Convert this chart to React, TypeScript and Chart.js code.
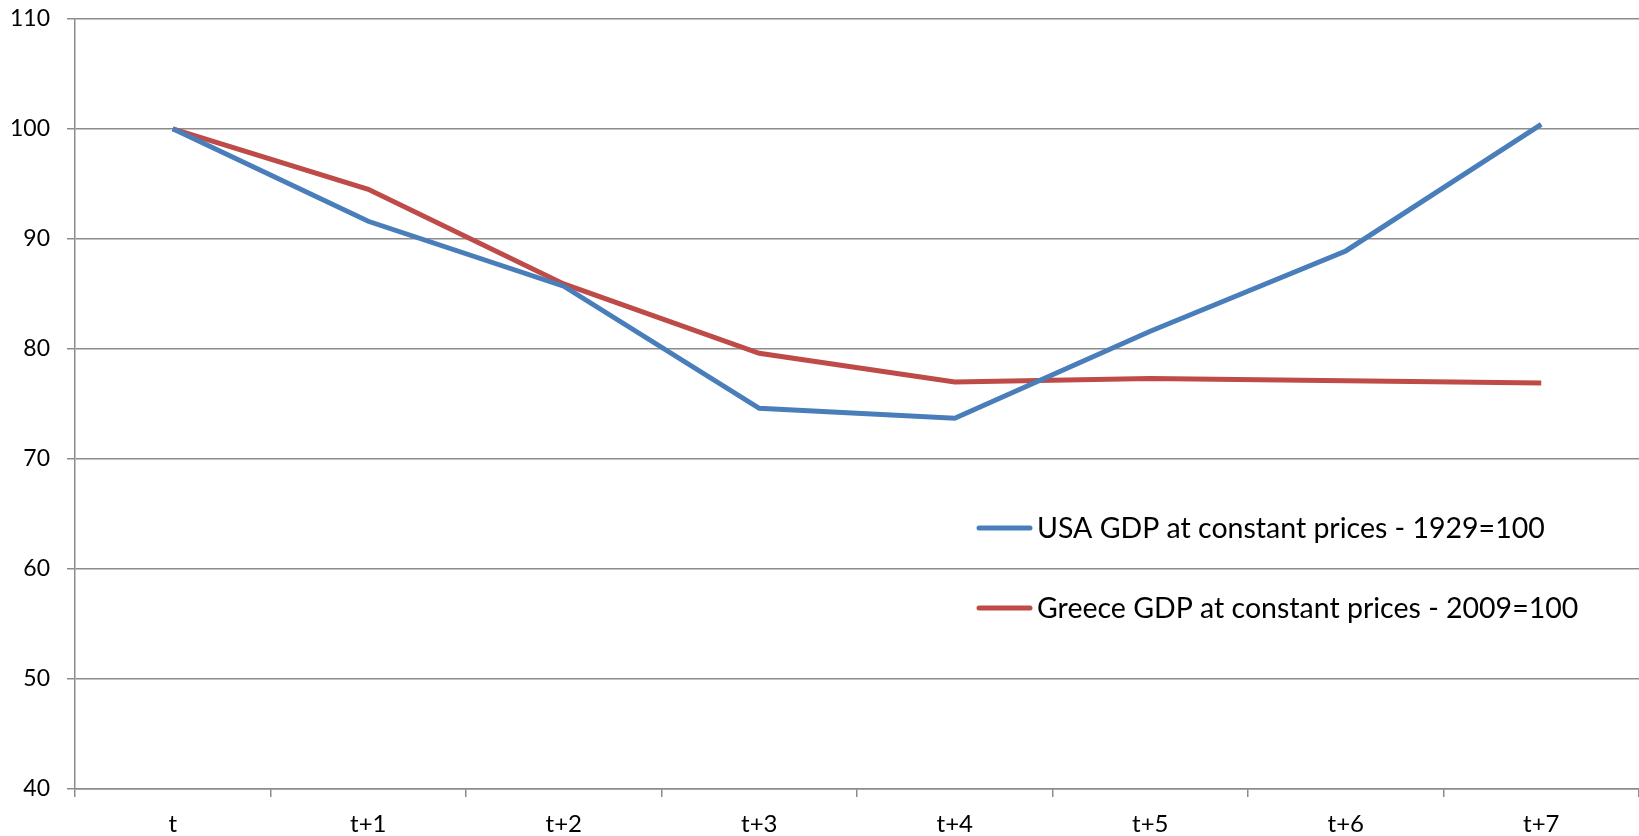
import React, { useEffect, useRef } from "react";
import { Chart, registerables } from "chart.js";

Chart.register(...registerables);

const categories = ["t", "t+1", "t+2", "t+3", "t+4", "t+5", "t+6", "t+7"];
const usaGdp = [100, 91.6, 85.7, 74.6, 73.7, 81.6, 88.9, 100.4];
const greeceGdp = [100, 94.5, 85.9, 79.6, 77.0, 77.3, 77.1, 76.9];
const seriesLabels = [
  "USA GDP at constant prices - 1929=100",
  "Greece GDP at constant prices - 2009=100",
];
const seriesColors = ["#4A7EBB", "#BE4B48"];

const FONT = "Lato, 'Open Sans', sans-serif";
const GRID = "#8c8c8c";
const SHIFT = 12;

const legendPlugin = {
  id: "customLegend",
  afterDatasetsDraw(chart: any, _args: any, opts: any) {
    const ctx = chart.ctx;
    ctx.save();
    chart.data.datasets.forEach((ds: any, i: number) => {
      const y = opts.y + i * opts.gap;
      ctx.strokeStyle = ds.borderColor;
      ctx.lineWidth = 5;
      ctx.lineCap = "round";
      ctx.beginPath();
      ctx.moveTo(opts.x, y);
      ctx.lineTo(opts.x + opts.lineLen, y);
      ctx.stroke();
      ctx.fillStyle = "#000";
      ctx.font = `${opts.fontSize}px ${FONT}`;
      ctx.textBaseline = "middle";
      ctx.textAlign = "left";
      ctx.fillText(ds.label, opts.x + opts.lineLen + 7, y + 1);
    });
    ctx.restore();
  },
};

export default function App() {
  const ref = useRef<HTMLCanvasElement>(null);
  useEffect(() => {
    if (!ref.current) return;
    const chart = new Chart(ref.current, {
      type: "line",
      data: {
        labels: categories,
        datasets: [
          {
            label: seriesLabels[0],
            data: usaGdp,
            borderColor: seriesColors[0],
            backgroundColor: seriesColors[0],
            borderWidth: 5,
            pointRadius: 0,
            tension: 0,
          },
          {
            label: seriesLabels[1],
            data: greeceGdp,
            borderColor: seriesColors[1],
            backgroundColor: seriesColors[1],
            borderWidth: 5,
            pointRadius: 0,
            tension: 0,
          },
        ],
      },
      options: {
        animation: false,
        responsive: false,
        layout: { padding: { top: 8, right: 0, left: 0, bottom: 0 } },
        plugins: {
          legend: { display: false },
          tooltip: { enabled: false },
          customLegend: { x: 979, y: 528 + SHIFT, gap: 80, lineLen: 51, fontSize: 28.5 },
        } as any,
        scales: {
          x: {
            offset: true,
            grid: {
              offset: true,
              drawOnChartArea: false,
              drawTicks: true,
              tickLength: 8,
              color: GRID,
              lineWidth: 1.5,
            },
            border: { color: GRID, width: 1.5 },
            ticks: { color: "#000", font: { family: FONT, size: 24 }, padding: 13 },
            afterFit(scale: any) {
              scale.height = 47;
            },
          },
          y: {
            min: 40,
            max: 110,
            ticks: {
              stepSize: 10,
              color: "#000",
              font: { family: FONT, size: 23 },
              padding: 17,
            },
            grid: { color: GRID, lineWidth: 1.5, tickLength: 8 },
            border: { color: GRID, width: 1.5 },
            afterFit(scale: any) {
              scale.width = 75;
            },
          },
        },
      },
      plugins: [legendPlugin],
    } as any);
    return () => chart.destroy();
  }, []);
  return (
    <div style={{ position: "fixed", left: 0, top: 0, width: 1639, height: 836, background: "#fff", overflow: "hidden" }}>
      <canvas
        ref={ref}
        width={1639}
        height={836 + SHIFT}
        style={{ position: "absolute", left: 0, top: -SHIFT }}
      />
    </div>
  );
}
